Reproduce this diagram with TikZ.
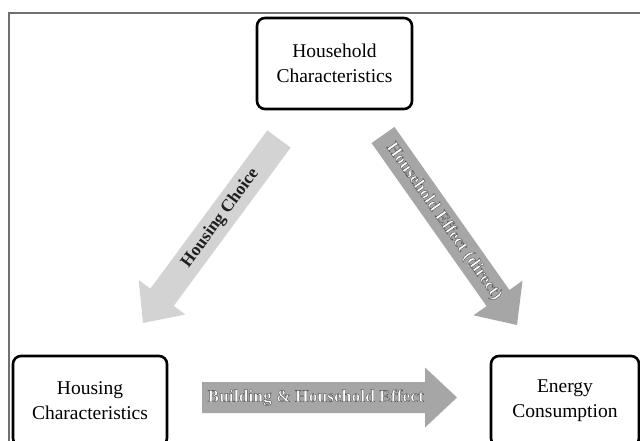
\documentclass[tikz,border=0pt]{standalone}
\usepackage{fontspec}
\setmainfont{Liberation Serif}
\usetikzlibrary{calc}
\definecolor{frameg}{HTML}{707070}
\definecolor{lightarrow}{HTML}{D3D3D3}
\definecolor{midarrow}{HTML}{A6A6A6}
\newcommand\blockarrow[6]{% start, end, shaft half, head half, head length, fill
  \coordinate (#1-hb) at ($(#2)!#5!(#1)$);
  \fill[#6] ($(#1)!#3!90:(#2)$) -- ($(#1-hb)!#3!-90:(#1)$) -- ($(#1-hb)!#4!-90:(#1)$)
    -- (#2) -- ($(#1-hb)!#4!90:(#1)$) -- ($(#1-hb)!#3!90:(#1)$) -- ($(#1)!#3!-90:(#2)$) -- cycle;}
\newcommand\outlinetext[1]{{\color{white}\special{pdf:literal direct 0.35 G 0.45 w 2 Tr}#1\special{pdf:literal direct 0 Tr}}}
\tikzset{
  boxnode/.style={draw=black, line width=2.6pt, rounded corners=8pt, fill=white,
    align=center, font=\fontsize{19.5}{25}\selectfont, inner sep=0pt},
  arrowlabel/.style={font=\bfseries\fontsize{17.5}{20}\selectfont, inner sep=0pt}
}
\begin{document}
\begin{tikzpicture}[x=1pt,y=-1pt]
\useasboundingbox (0,0) rectangle (640,441);
\fill[white] (0,0) rectangle (640,441);
\clip (0,0) rectangle (640,441);
\draw[frameg, line width=2pt] (9,13) rectangle (660,460);
% boxes
\node[boxnode, minimum width=155pt, minimum height=91pt] (hh) at (334.5,63.5) {Household\\Characteristics};
\node[boxnode, minimum width=154pt, minimum height=90pt] (hc) at (90,401) {Housing\\Characteristics};
\node[boxnode, minimum width=148pt, minimum height=90pt] (ec) at (565,401) {Energy\\Consumption};
% arrow end points
\coordinate (a1s) at (279,139);
\coordinate (a1e) at (143,323);
\coordinate (a2s) at (383,135);
\coordinate (a2e) at (517,325);
\coordinate (a3s) at (202,397.5);
\coordinate (a3e) at (457,397.5);
\blockarrow{a1s}{a1e}{14.5pt}{29pt}{32pt}{lightarrow}
\blockarrow{a2s}{a2e}{14pt}{30pt}{33pt}{midarrow}
\blockarrow{a3s}{a3e}{15.5pt}{30pt}{32pt}{midarrow}
% labels
\path (a1s) -- (a1s-hb) node[arrowlabel, midway, sloped, text=black!88] (l1) {Housing Choice};
\path (a2s) -- (a2s-hb) node[arrowlabel, pos=0.53, sloped] (l2) {\outlinetext{Household Effect (direct)}};
\path (a3s) -- (a3s-hb) node[arrowlabel, pos=0.51, sloped] (l3) {\outlinetext{Building \& Household Effect}};
\end{tikzpicture}
\end{document}
